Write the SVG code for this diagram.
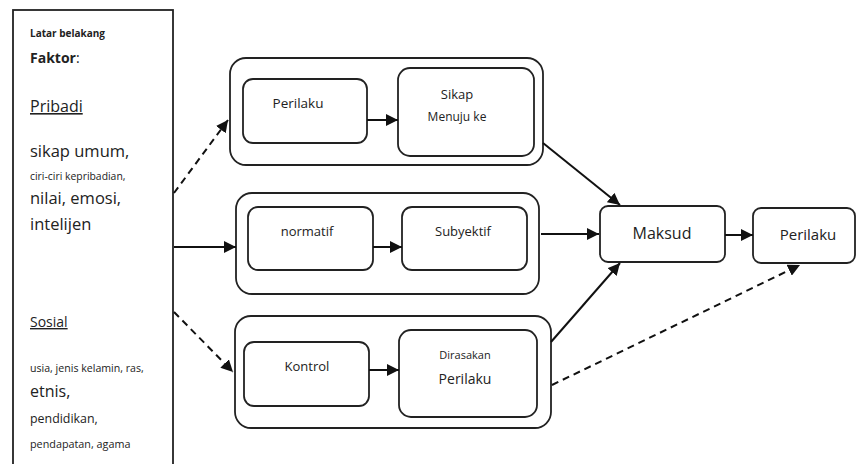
<svg xmlns="http://www.w3.org/2000/svg" width="857" height="464" viewBox="0 0 857 464">
<style>
.box{fill:#fff;stroke:#222;stroke-width:1.8}
.t{font-family:"Open Sans","Noto Sans",sans-serif;fill:#222}
.c{text-anchor:middle}
.ln{fill:none;stroke:#111;stroke-width:2}
.dash{stroke-dasharray:7,5}
</style>
<defs>
<marker id="ah" markerUnits="userSpaceOnUse" markerWidth="14" markerHeight="12" refX="12" refY="6" orient="auto">
<path d="M0,0 L12,6 L0,12 z" fill="#111"/>
</marker>
</defs>
<rect width="857" height="464" fill="#fff"/>
<g id="faktor">
<rect class="box" x="13" y="10" width="160" height="470"/>
<text class="t" x="30" y="37" font-size="10" font-weight="bold">Latar belakang</text>
<text class="t" x="30" y="63" font-size="14"><tspan font-weight="bold">Faktor</tspan>:</text>
<text class="t" x="30" y="112" font-size="16" text-decoration="underline">Pribadi</text>
<text class="t" x="30" y="157" font-size="16.5">sikap umum,</text>
<text class="t" x="30" y="180" font-size="10.4">ciri-ciri kepribadian,</text>
<text class="t" x="30" y="204" font-size="16.5">nilai, emosi,</text>
<text class="t" x="30" y="230" font-size="16.5">intelijen</text>
<text class="t" x="30" y="327" font-size="14" text-decoration="underline">Sosial</text>
<text class="t" x="30" y="372" font-size="10.6">usia, jenis kelamin, ras,</text>
<text class="t" x="30" y="397" font-size="16">etnis,</text>
<text class="t" x="30" y="423" font-size="12.4">pendidikan,</text>
<text class="t" x="30" y="448" font-size="10.8">pendapatan, agama</text>
</g>
<g id="sikap-group">
<rect class="box" x="230" y="58" width="313" height="107" rx="16"/>
<rect class="box" x="243" y="79" width="124" height="64" rx="10"/>
<text class="t c" x="298" y="108" font-size="13.5">Perilaku</text>
<rect class="box" x="398" y="68" width="136" height="88" rx="12"/>
<text class="t c" x="457" y="99" font-size="13">Sikap</text>
<text class="t c" x="457" y="121" font-size="12">Menuju ke</text>
</g>
<g id="norma-group">
<rect class="box" x="236" y="193" width="303" height="101" rx="16"/>
<rect class="box" x="248" y="207" width="125" height="63" rx="10"/>
<text class="t c" x="307" y="236" font-size="13">normatif</text>
<rect class="box" x="402" y="207" width="125" height="63" rx="10"/>
<text class="t c" x="463" y="236" font-size="13">Subyektif</text>
</g>
<g id="kontrol-group">
<rect class="box" x="235" y="316" width="316" height="112" rx="16"/>
<rect class="box" x="244" y="342" width="125" height="64" rx="10"/>
<text class="t c" x="307" y="371" font-size="13">Kontrol</text>
<rect class="box" x="399" y="330" width="138" height="87" rx="12"/>
<text class="t c" x="465" y="359" font-size="11">Dirasakan</text>
<text class="t c" x="465" y="384" font-size="14">Perilaku</text>
</g>
<g id="maksud">
<rect class="box" x="600" y="206" width="125" height="56" rx="8"/>
<text class="t c" x="662" y="239" font-size="16">Maksud</text>
</g>
<g id="perilaku">
<rect class="box" x="753" y="208" width="102" height="55" rx="8"/>
<text class="t c" x="808" y="240" font-size="15">Perilaku</text>
</g>
<g id="connectors">
<line class="ln dash" x1="174" y1="193" x2="228" y2="120" marker-end="url(#ah)"/>
<line class="ln" x1="174" y1="247" x2="236" y2="247" marker-end="url(#ah)"/>
<line class="ln dash" x1="174" y1="312" x2="233" y2="372" marker-end="url(#ah)"/>
<line class="ln" x1="367" y1="120" x2="398" y2="120" marker-end="url(#ah)"/>
<line class="ln" x1="373" y1="247" x2="402" y2="247" marker-end="url(#ah)"/>
<line class="ln" x1="369" y1="370" x2="399" y2="370" marker-end="url(#ah)"/>
<line class="ln" x1="543" y1="143" x2="620" y2="205" marker-end="url(#ah)"/>
<line class="ln" x1="541" y1="234" x2="599" y2="234" marker-end="url(#ah)"/>
<line class="ln" x1="551" y1="342" x2="620" y2="263" marker-end="url(#ah)"/>
<line class="ln" x1="725" y1="235" x2="753" y2="235" marker-end="url(#ah)"/>
<line class="ln dash" x1="552" y1="385" x2="800" y2="265" marker-end="url(#ah)"/>
</g>
</svg>
